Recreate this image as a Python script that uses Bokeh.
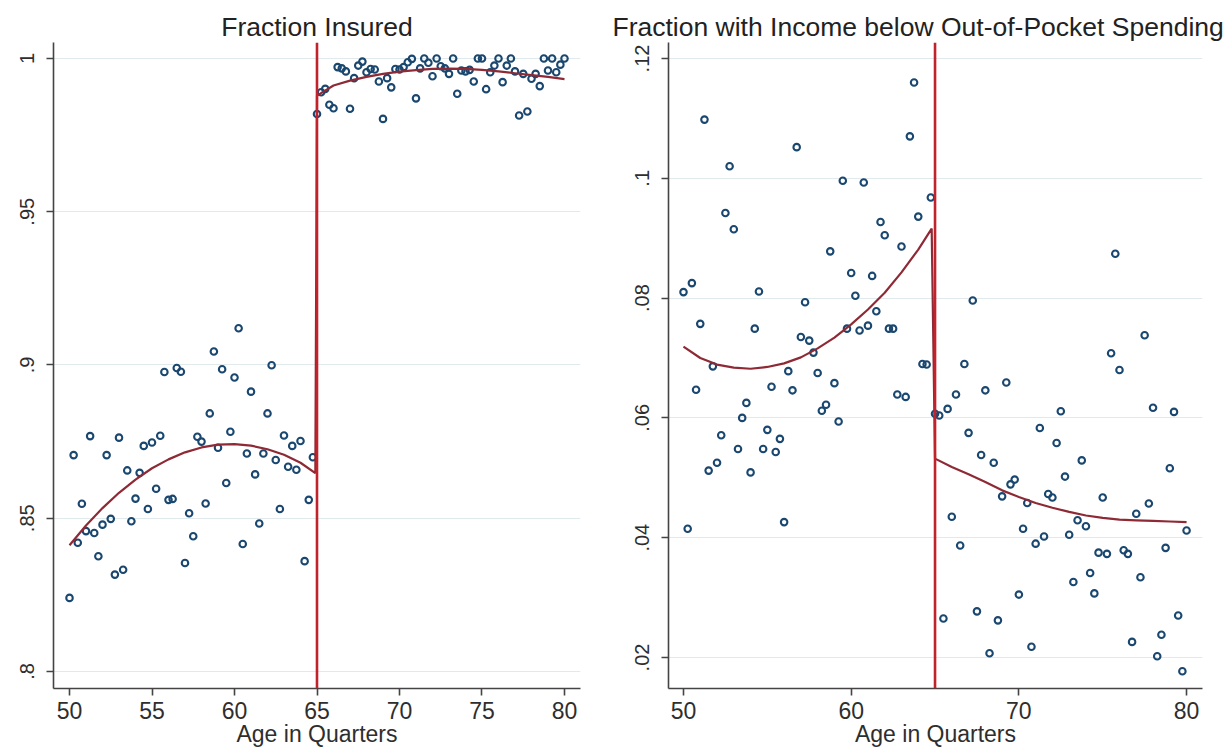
from bokeh.plotting import figure
from bokeh.models import Range1d, FixedTicker, Span
from bokeh.layouts import row
from bokeh.embed import file_html
from bokeh.resources import INLINE

CUTOFF = 65

# ---------- Left panel: Fraction Insured ----------
ins_age_pre = [50 + 0.25 * i for i in range(60)]
ins_val_pre = [0.824, 0.8706, 0.842, 0.8547, 0.8458, 0.8768, 0.8452, 0.8376, 0.8479, 0.8706,
               0.8498, 0.8316, 0.8763, 0.8332, 0.8656, 0.849, 0.8564, 0.8648, 0.8736, 0.853,
               0.8747, 0.8596, 0.8769, 0.8977, 0.856, 0.8563, 0.899, 0.8978, 0.8354, 0.8516,
               0.8441, 0.8766, 0.875, 0.8548, 0.8842, 0.9044, 0.873, 0.8986, 0.8615, 0.8782,
               0.8959, 0.912, 0.8416, 0.8711, 0.8913, 0.8643, 0.8483, 0.8711, 0.8842, 0.8999,
               0.869, 0.853, 0.877, 0.8668, 0.8736, 0.8658, 0.8752, 0.836, 0.856, 0.8699]
ins_age_post = [65 + 0.25 * i for i in range(61)]
ins_val_post = [0.9819, 0.989, 0.9901, 0.9849, 0.9838, 0.9972, 0.9968, 0.9958, 0.9836, 0.9936,
                0.9977, 0.999, 0.9955, 0.9966, 0.9964, 0.9925, 0.9803, 0.9936, 0.9906, 0.9966,
                0.9964, 0.9972, 0.9988, 0.9999, 0.987, 0.9968, 1.0, 0.9986, 0.9942, 1.0,
                0.9975, 0.9968, 0.995, 1.0, 0.9885, 0.9961, 0.9958, 0.9963, 0.9925, 1.0,
                1.0, 0.99, 0.9955, 0.9977, 1.0, 0.9923, 0.9977, 1.0, 0.9958, 0.9814,
                0.995, 0.9827, 0.9934, 0.995, 0.991, 1.0, 0.9961, 1.0, 0.9955, 0.998, 1.0]
ins_fit_age = [50, 51, 52, 53, 54, 55, 56, 57, 58, 59, 60, 61, 62, 63, 64, 64.9,
               65, 66, 67, 68, 69, 70, 71, 72, 73, 74, 75, 76, 77, 78, 79, 80]
ins_fit_val = [0.8412, 0.8476, 0.8533, 0.8583, 0.8626, 0.8663, 0.8692, 0.8715, 0.8731, 0.874,
               0.8742, 0.8737, 0.8725, 0.8707, 0.8681, 0.8647,
               0.9879, 0.9912, 0.9928, 0.994, 0.995, 0.9957, 0.9962, 0.9966, 0.9967, 0.9966,
               0.9963, 0.9958, 0.9952, 0.9946, 0.994, 0.9933]
ins_xticks = [50, 55, 60, 65, 70, 75, 80]
ins_yticks = [0.8, 0.85, 0.9, 0.95, 1.0]
ins_ylabels = [".8", ".85", ".9", ".95", "1"]

# ---------- Right panel: Fraction with Income below OOP Spending ----------
oop_age_pre = [50 + 0.25 * i for i in range(60)]
oop_val_pre = [0.081, 0.0415, 0.0825, 0.0647, 0.0757, 0.1098, 0.0512, 0.0686, 0.0525, 0.0571,
               0.0942, 0.102, 0.0915, 0.0548, 0.06, 0.0625, 0.0509, 0.0749, 0.0811, 0.0548,
               0.058, 0.0652, 0.0543, 0.0565, 0.0426, 0.0678, 0.0646, 0.1052, 0.0735, 0.0793,
               0.0729, 0.0709, 0.0675, 0.0612, 0.0622, 0.0878, 0.0658, 0.0594, 0.0996, 0.0749,
               0.0842, 0.0804, 0.0746, 0.0993, 0.0754, 0.0837, 0.0778, 0.0927, 0.0905, 0.0749,
               0.0749, 0.0639, 0.0886, 0.0635, 0.107, 0.116, 0.0936, 0.069, 0.0689, 0.0968]
oop_age_post = [65 + 0.25 * i for i in range(61)]
oop_val_post = [0.0607, 0.0604, 0.0265, 0.0615, 0.0435, 0.0639, 0.0387, 0.069, 0.0575, 0.0796,
                0.0277, 0.0538, 0.0646, 0.0207, 0.0525, 0.0262, 0.0469, 0.0659, 0.0489, 0.0497,
                0.0305, 0.0415, 0.0458, 0.0218, 0.039, 0.0583, 0.0402, 0.0473, 0.0467, 0.0558,
                0.0611, 0.0502, 0.0405, 0.0326, 0.0429, 0.0529, 0.0419, 0.0341, 0.0307, 0.0375,
                0.0467, 0.0373, 0.0708, 0.0874, 0.068, 0.0379, 0.0373, 0.0226, 0.044, 0.0334,
                0.0738, 0.0457, 0.0617, 0.0202, 0.0238, 0.0383, 0.0516, 0.061, 0.027, 0.0177, 0.0412]
oop_fit_age = [50, 51, 52, 53, 54, 55, 56, 57, 58, 59, 60, 61, 62, 63, 64, 64.8,
               65, 66, 67, 68, 69, 70, 71, 72, 73, 74, 75, 76, 77, 78, 79, 80]
oop_fit_val = [0.0719, 0.07, 0.0689, 0.0684, 0.0682, 0.0685, 0.0691, 0.0701, 0.0716, 0.0734,
               0.0756, 0.0781, 0.0809, 0.0843, 0.0881, 0.0916,
               0.0532, 0.0518, 0.0506, 0.0493, 0.0479, 0.0468, 0.0458, 0.045, 0.0443, 0.0437,
               0.0433, 0.043, 0.0429, 0.0428, 0.0427, 0.0426]
oop_xticks = [50, 60, 70, 80]
oop_yticks = [0.02, 0.04, 0.06, 0.08, 0.1, 0.12]
oop_ylabels = [".02", ".04", ".06", ".08", ".1", ".12"]

NAVY = "#1a476f"
MAROON = "#8e2a35"
RED = "#c0232c"
FONT = "Liberation Sans"


def panel(title, w, h, xr, yr, mb_left, mb_right, xticks, yticks, ylabels,
          ages, vals, fit_age, fit_val):
    p = figure(width=w, height=h, x_range=Range1d(*xr), y_range=Range1d(*yr),
               output_backend="svg", toolbar_location=None, title=title,
               min_border_left=mb_left, min_border_right=mb_right,
               min_border_top=42, min_border_bottom=64)
    p.outline_line_color = None
    p.background_fill_color = "white"
    p.border_fill_color = "white"
    p.title.text_font = FONT
    p.title.text_font_size = "26.5px"
    p.title.text_font_style = "normal"
    p.title.text_color = "#222222"
    p.title.align = "center"
    p.title.standoff = 2

    p.xgrid.grid_line_color = None
    p.ygrid.grid_line_color = "#e0e9ec"
    p.ygrid.grid_line_width = 1.2

    for ax in (p.xaxis, p.yaxis):
        ax.axis_line_color = "#444444"
        ax.axis_line_width = 1.6
        ax.major_tick_line_color = "#444444"
        ax.major_tick_line_width = 1.6
        ax.major_tick_out = 7
        ax.major_tick_in = 0
        ax.minor_tick_line_color = None
        ax.major_label_text_font = FONT
        ax.major_label_text_color = "#2e2e2e"

    p.xaxis.ticker = FixedTicker(ticks=xticks)
    p.xaxis.major_label_text_font_size = "23px"
    p.xaxis.major_label_standoff = 6
    p.xaxis.axis_label = "Age in Quarters"
    p.xaxis.axis_label_text_font = FONT
    p.xaxis.axis_label_text_font_size = "23px"
    p.xaxis.axis_label_text_font_style = "normal"
    p.xaxis.axis_label_text_color = "#2e2e2e"
    p.xaxis.axis_label_standoff = -1

    p.yaxis.ticker = FixedTicker(ticks=yticks)
    p.yaxis.major_label_overrides = {t: l for t, l in zip(yticks, ylabels)}
    p.yaxis.major_label_orientation = "vertical"
    p.yaxis.major_label_text_font_size = "20px"
    p.yaxis.major_label_standoff = 12

    p.scatter(ages, vals, marker="circle", size=6.5, fill_color=None,
              line_color=NAVY, line_width=2.1)
    p.line(fit_age, fit_val, line_color=MAROON, line_width=2.2)
    p.add_layout(Span(location=CUTOFF, dimension="height", line_color=RED,
                      line_width=2.6))
    return p


H = 752
p1 = panel("Fraction Insured", 608, H, (49.03, 80.97), (0.79444, 1.00523), 53, 28,
           ins_xticks, ins_yticks, ins_ylabels,
           ins_age_pre + ins_age_post, ins_val_pre + ins_val_post,
           ins_fit_age, ins_fit_val)
p2 = panel("Fraction with Income below Out-of-Pocket Spending", 617, H,
           (49.106, 80.95), (0.01482, 0.12267), 60, 23,
           oop_xticks, oop_yticks, oop_ylabels,
           oop_age_pre + oop_age_post, oop_val_pre + oop_val_post,
           oop_fit_age, oop_fit_val)
p2.title.align = "left"
p2.title.offset = -56

layout = row(p1, p2)
open("out.html", "w").write(file_html(layout, INLINE))
